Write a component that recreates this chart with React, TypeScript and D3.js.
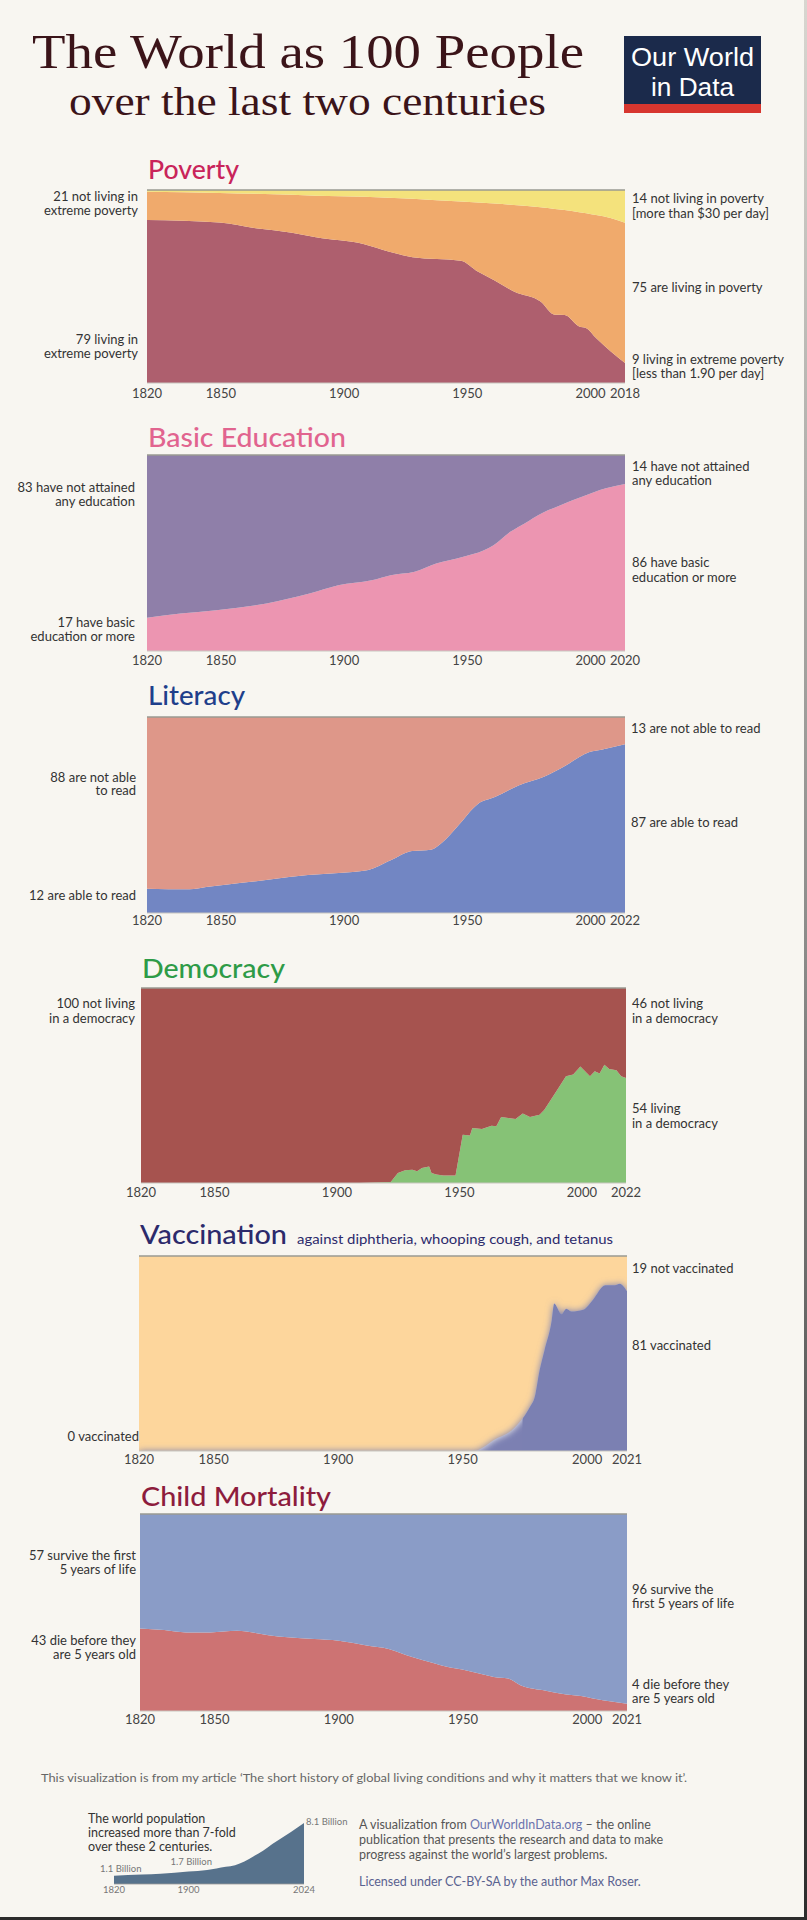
import * as d3 from 'd3';

// ---- data ----
const povertyYears = [1820, 1850, 1865, 1880, 1890, 1910, 1920, 1930, 1950, 1957, 1964, 1972, 1983, 1989, 1993, 1999, 2002, 2006, 2012, 2018];
const povertyExtreme = [84.5, 83.1, 80.2, 77.9, 75.5, 71.9, 68.1, 65.2, 63.4, 57.8, 53.1, 47.4, 42.2, 35.3, 35.2, 29.3, 28.4, 23.3, 16.4, 10.3];
const povertyNotPoor = [0.9, 1.5, 2, 2.5, 3, 3.5, 4, 4.5, 6, 6.5, 7, 7.8, 9, 9.8, 10.3, 11.5, 12, 13, 14.5, 17];

const educationYears = [1820, 1834, 1849, 1858, 1870, 1879, 1888, 1900, 1914, 1922, 1932, 1941, 1952, 1961, 1965, 1972, 1978, 1985, 1993, 2002, 2012, 2020];
const educationBasic = [17.0, 19.1, 20.8, 22.1, 24.2, 26.7, 29.3, 33.6, 36.1, 38.7, 40.4, 44.6, 48.0, 51.4, 54.0, 60.8, 65.1, 70.2, 74.4, 78.7, 83.0, 85.2];

const literacyYears = [1820, 1838, 1845, 1854, 1867, 1880, 1888, 1901, 1913, 1923, 1932, 1940, 1945, 1951, 1960, 1967, 1977, 1988, 1997, 2007, 2012, 2022];
const literacyRead = [12.4, 12.1, 13.3, 14.6, 16.3, 18.4, 19.4, 20.4, 21.8, 26.9, 31.6, 32.3, 36.2, 43.9, 55.8, 59.2, 65.1, 69.7, 75.3, 82.1, 83.3, 86.1];

const democracyYears = [1820, 1911, 1924, 1927, 1930, 1933, 1935, 1937, 1940, 1941, 1943, 1946, 1951, 1954, 1957, 1958, 1962, 1966, 1968, 1970, 1976, 1979, 1982, 1986, 1988, 1993, 1997, 2000, 2003, 2007, 2009, 2011, 2013, 2015, 2018, 2020, 2022];
const democracyLiving = [0, 0, 0.5, 5.1, 6.5, 6.8, 6.0, 7.7, 8.5, 5.1, 4.3, 3.8, 3.8, 24.8, 24.3, 28.2, 27.7, 29.4, 29.1, 33.8, 32.8, 35.6, 33.8, 35.0, 37.6, 47.0, 54.7, 55.6, 59.8, 54.7, 57.3, 56.1, 60.7, 58.5, 57.8, 54.7, 53.8];

const vaccinationYears = [1820, 1958, 1960, 1966, 1975, 1981, 1983, 1985, 1987, 1990, 1991, 1994, 1996, 1998, 2003, 2007, 2012, 2016, 2018, 2021];
const vaccinationShare = [0, 0, 0.7, 5.5, 12.3, 22.6, 27.7, 41.4, 51.6, 67, 75.6, 70.1, 73, 71.6, 72.5, 77.6, 85, 85, 85.8, 81.9];

const childYears = [1820, 1830, 1839, 1849, 1860, 1873, 1881, 1892, 1902, 1913, 1923, 1932, 1941, 1948, 1953, 1960, 1966, 1972, 1977, 1988, 1994, 2002, 2011, 2021];
const childDie = [41.9, 41.1, 39.9, 39.9, 40.7, 38.5, 37.4, 36.5, 35.7, 33.4, 31.4, 27.5, 24.4, 22.1, 21.1, 19.0, 17.3, 16.5, 13.1, 10.2, 8.8, 7.6, 5.4, 3.7];

const popYears = [1820, 1850, 1870, 1900, 1920, 1930, 1940, 1950, 1960, 1970, 1980, 1990, 2000, 2010, 2024];
const popBillions = [1.1, 1.26, 1.37, 1.65, 1.86, 2.07, 2.3, 2.5, 3.0, 3.7, 4.4, 5.3, 6.1, 6.9, 8.1];

const midTicks = [1820, 1850, 1900, 1950, 2000];

const W = 807;
const H = 1920;
const BG = '#f8f6f1';
const SANS = "Lato, 'Open Sans', sans-serif";
const SERIF = "'Liberation Serif', 'DejaVu Serif', serif";
const TEXT = '#333';

type Layer = { key: string; color: string; values?: number[] };
type Panel = {
  id: string;
  title: string;
  titleColor: string;
  titleWidth: number;
  subtitle?: string;
  titleY: number;
  top: number;
  bottom: number;
  left: number;
  right: number;
  tickY: number;
  endYear: number;
  axisEnd: number;
  years: number[];
  layers: Layer[];
  curve: d3.CurveFactory;
  leftX: number;
  leftLabels: [number, string][];
  rightX: number;
  rightLabels: [number, string][];
  blurUntil?: number;
};

const panels: Panel[] = [
  {
    id: 'poverty', title: 'Poverty', titleColor: '#c9245a', titleWidth: 91, titleY: 179,
    top: 190, bottom: 383, left: 147, right: 625, tickY: 398, endYear: 2018, axisEnd: 2014,
    years: povertyYears, curve: d3.curveMonotoneX,
    layers: [
      { key: 'extreme', color: '#ae5f6e', values: povertyExtreme },
      { key: 'poor', color: '#f0aa6c' },
      { key: 'rich', color: '#f4e27c', values: povertyNotPoor },
    ],
    leftX: 138,
    leftLabels: [[201, '21 not living in'], [215, 'extreme poverty'], [344, '79 living in'], [358, 'extreme poverty']],
    rightX: 632,
    rightLabels: [[203, '14 not living in poverty'], [218, '[more than $30 per day]'], [292, '75 are living in poverty'], [364, '9 living in extreme poverty'], [378, '[less than 1.90 per day]']],
  },
  {
    id: 'education', title: 'Basic Education', titleColor: '#e1648f', titleWidth: 198, titleY: 447,
    top: 455, bottom: 651, left: 147, right: 625, tickY: 665, endYear: 2020, axisEnd: 2014,
    years: educationYears, curve: d3.curveMonotoneX,
    layers: [
      { key: 'basic', color: '#ec95b1', values: educationBasic },
      { key: 'none', color: '#8f7fa9' },
    ],
    leftX: 135,
    leftLabels: [[492, '83 have not attained'], [506, 'any education'], [627, '17 have basic'], [641, 'education or more']],
    rightX: 632,
    rightLabels: [[471, '14 have not attained'], [485, 'any education'], [567, '86 have basic'], [582, 'education or more']],
  },
  {
    id: 'literacy', title: 'Literacy', titleColor: '#1f3f8b', titleWidth: 97, titleY: 705,
    top: 717, bottom: 913, left: 147, right: 625, tickY: 925, endYear: 2022, axisEnd: 2014,
    years: literacyYears, curve: d3.curveMonotoneX,
    layers: [
      { key: 'read', color: '#7286c3', values: literacyRead },
      { key: 'illiterate', color: '#de9789' },
    ],
    leftX: 136,
    leftLabels: [[782, '88 are not able'], [795, 'to read'], [900, '12 are able to read']],
    rightX: 631,
    rightLabels: [[733, '13 are not able to read'], [827, '87 are able to read']],
  },
  {
    id: 'democracy', title: 'Democracy', titleColor: '#2e9b47', titleWidth: 143, titleY: 978,
    top: 988, bottom: 1183, left: 141, right: 626, tickY: 1197, endYear: 2022, axisEnd: 2018,
    years: democracyYears, curve: d3.curveLinear,
    layers: [
      { key: 'demo', color: '#86c276', values: democracyLiving },
      { key: 'autoc', color: '#a6534f' },
    ],
    leftX: 135,
    leftLabels: [[1008, '100 not living'], [1023, 'in a democracy']],
    rightX: 632,
    rightLabels: [[1008, '46 not living'], [1023, 'in a democracy'], [1113, '54 living'], [1128, 'in a democracy']],
  },
  {
    id: 'vaccination', title: 'Vaccination', titleColor: '#2c2a6b', titleWidth: 147,
    subtitle: 'against diphtheria, whooping cough, and tetanus', titleY: 1244,
    top: 1256, bottom: 1451, left: 139, right: 627, tickY: 1464, endYear: 2021, axisEnd: 2016,
    years: vaccinationYears, curve: d3.curveMonotoneX, blurUntil: 1978,
    layers: [
      { key: 'vacc', color: '#7b80b2', values: vaccinationShare },
      { key: 'notvacc', color: '#fdd69c' },
    ],
    leftX: 139,
    leftLabels: [[1441, '0 vaccinated']],
    rightX: 632,
    rightLabels: [[1273, '19 not vaccinated'], [1350, '81 vaccinated']],
  },
  {
    id: 'child', title: 'Child Mortality', titleColor: '#8d1c3d', titleWidth: 190, titleY: 1506,
    top: 1514, bottom: 1711, left: 140, right: 627, tickY: 1724, endYear: 2021, axisEnd: 2016,
    years: childYears, curve: d3.curveMonotoneX,
    layers: [
      { key: 'die', color: '#cd7373', values: childDie },
      { key: 'survive', color: '#8a9cc7' },
    ],
    leftX: 136,
    leftLabels: [[1560, '57 survive the first'], [1574, '5 years of life'], [1645, '43 die before they'], [1659, 'are 5 years old']],
    rightX: 632,
    rightLabels: [[1594, '96 survive the'], [1608, 'first 5 years of life'], [1689, '4 die before they'], [1703, 'are 5 years old']],
  },
];

function AreaPanel({ p }: { p: Panel }) {
  const x = d3.scaleLinear().domain([1820, p.endYear]).range([p.left, p.right]);
  const y = d3.scaleLinear().domain([0, 100]).range([p.bottom, p.top]);
  // the printed year labels sit on a slightly different spacing than the data
  const axisX = d3.scaleLinear().domain([1820, p.axisEnd]).range([p.left, p.right]);

  const rows = p.years.map((yr, i) => {
    const r: Record<string, number> = { year: yr };
    let sum = 0;
    p.layers.forEach((l) => {
      if (l.values) {
        r[l.key] = l.values[i];
        sum += l.values[i];
      }
    });
    p.layers.forEach((l) => {
      if (!l.values) r[l.key] = 100 - sum;
    });
    return r;
  });

  const stacked = d3.stack<Record<string, number>>().keys(p.layers.map((l) => l.key))(rows);
  const area = d3
    .area<d3.SeriesPoint<Record<string, number>>>()
    .x((d) => x(d.data.year))
    .y0((d) => y(d[0]))
    .y1((d) => y(d[1]))
    .curve(p.curve);

  const clipId = `clip-${p.id}`;

  // blurred edge for the early part of the vaccination series
  let blurred = null;
  if (p.blurUntil) {
    const first = stacked[0];
    const blurArea = d3
      .area<d3.SeriesPoint<Record<string, number>>>()
      .x((d) => x(d.data.year))
      .y0(() => y(0) + 20)
      .y1((d) => y(d[1]))
      .curve(p.curve);
    blurred = (
      <g clipPath={`url(#${clipId})`}>
        <path d={blurArea(first) || ''} fill={p.layers[0].color} filter="url(#vblur)" />
        <g clipPath={`url(#${clipId}-sharp)`}>
          <path d={area(first) || ''} fill={p.layers[0].color} />
        </g>
      </g>
    );
  }

  return (
    <g>
      <defs>
        <clipPath id={clipId}>
          <rect x={p.left} y={p.top} width={p.right - p.left} height={p.bottom - p.top} />
        </clipPath>
        {p.blurUntil && (
          <clipPath id={`${clipId}-sharp`}>
            <rect x={x(p.blurUntil)} y={p.top} width={p.right - x(p.blurUntil)} height={p.bottom - p.top} />
          </clipPath>
        )}
      </defs>
      <text x={p.left + 1} y={p.titleY} fill={p.titleColor} fontFamily={SANS} fontSize={27} fontWeight={500}
        textLength={p.titleWidth} lengthAdjust="spacingAndGlyphs">
        {p.title}
      </text>
      {p.subtitle && (
        <text x={297} y={p.titleY} fill={p.titleColor} fontFamily={SANS} fontSize={14}
          textLength={316} lengthAdjust="spacingAndGlyphs">
          {p.subtitle}
        </text>
      )}
      {stacked.map((s, i) =>
        p.blurUntil && i === 0 ? null : (
          <path key={s.key} d={area(s) || ''} fill={p.layers[i].color} />
        ),
      )}
      {blurred}
      <line x1={p.left} x2={p.right} y1={p.top} y2={p.top} stroke="#9a9a92" strokeWidth={1.5} />
      <line x1={p.left} x2={p.right} y1={p.bottom} y2={p.bottom} stroke="#c8c6c0" strokeWidth={1} />
      {midTicks.map((t) => (
        <text key={t} x={axisX(t)} y={p.tickY} textAnchor="middle" fill="#444" fontFamily={SANS} fontSize={13}>
          {t}
        </text>
      ))}
      <text x={x(p.endYear)} y={p.tickY} textAnchor="middle" fill="#444" fontFamily={SANS} fontSize={13}>
        {p.endYear}
      </text>
      {p.leftLabels.map(([ly, txt], i) => (
        <text key={`l${i}`} x={p.leftX} y={ly} textAnchor="end" fill={TEXT} fontFamily={SANS} fontSize={13}>
          {txt}
        </text>
      ))}
      {p.rightLabels.map(([ly, txt], i) => (
        <text key={`r${i}`} x={p.rightX} y={ly} fill={TEXT} fontFamily={SANS} fontSize={13}>
          {txt}
        </text>
      ))}
    </g>
  );
}

function PopulationInset() {
  const x = d3.scaleLinear().domain([1820, 2024]).range([114, 304]);
  const y = d3.scaleLinear().domain([0, 8.1]).range([1884, 1823]);
  const rows = popYears.map((yr, i) => ({ year: yr, v: popBillions[i] }));
  const area = d3
    .area<{ year: number; v: number }>()
    .x((d) => x(d.year))
    .y0(y(0))
    .y1((d) => y(d.v))
    .curve(d3.curveMonotoneX);
  const small = { fontFamily: SANS, fontSize: 9.5, fill: '#777' };
  return (
    <g>
      <path d={area(rows) || ''} fill="#57728c" />
      <line x1={x(1820)} x2={x(2024)} y1={y(0)} y2={y(0)} stroke="#999" strokeWidth={0.8} />
      {[1820, 1900, 2024].map((t) => (
        <text key={t} x={x(t)} y={1893} textAnchor="middle" {...small}>{t}</text>
      ))}
      <text x={x(1820) - 14} y={1872} {...small}>1.1 Billion</text>
      <text x={x(1900) - 18} y={1865} {...small}>1.7 Billion</text>
      <text x={x(2024) + 2} y={1825} {...small}>8.1 Billion</text>
      {['The world population', 'increased more than 7-fold', 'over these 2 centuries.'].map((t, i) => (
        <text key={t} x={88} y={1823 + i * 14} fontFamily={SANS} fontSize={12.5} fill={TEXT}>{t}</text>
      ))}
    </g>
  );
}

export default function App() {
  return (
    <svg width={W} height={H} viewBox={`0 0 ${W} ${H}`}
      style={{ position: 'absolute', left: 0, top: 0, display: 'block' }}>
      <defs>
        <filter id="vblur" x="-10%" y="-10%" width="120%" height="120%">
          <feGaussianBlur stdDeviation={3.5} />
        </filter>
        <linearGradient id="edge" x1="0" y1="0" x2="0" y2="1">
          <stop offset="0" stopColor="#d8d6d0" />
          <stop offset="0.5" stopColor="#8a8a88" />
          <stop offset="1" stopColor="#2c2c2c" />
        </linearGradient>
      </defs>
      <rect width={W} height={H} fill={BG} />

      {/* header */}
      <text x={32} y={68} fontFamily={SERIF} fontSize={49} fill="#3b1419"
        textLength={552} lengthAdjust="spacingAndGlyphs">
        The World as 100 People
      </text>
      <text x={69} y={115} fontFamily={SERIF} fontSize={40} fill="#3b1419"
        textLength={477} lengthAdjust="spacingAndGlyphs">
        over the last two centuries
      </text>
      <rect x={624} y={36} width={137} height={69} fill="#1b2a4b" />
      <rect x={624} y={104} width={137} height={9} fill="#d7362f" />
      <text x={631} y={66} fontFamily="'Liberation Sans', Arial, sans-serif" fontSize={25} fill="#fff"
        textLength={123} lengthAdjust="spacingAndGlyphs">Our World</text>
      <text x={651} y={96} fontFamily="'Liberation Sans', Arial, sans-serif" fontSize={25} fill="#fff"
        textLength={83} lengthAdjust="spacingAndGlyphs">in Data</text>

      {panels.map((p) => (
        <AreaPanel key={p.id} p={p} />
      ))}

      {/* footer */}
      <text x={41} y={1782} fontFamily={SANS} fontSize={11.5} fill="#666" textLength={646} lengthAdjust="spacingAndGlyphs">
        This visualization is from my article ‘The short history of global living conditions and why it matters that we know it’.
      </text>
      <PopulationInset />
      <text x={359} y={1829} fontFamily={SANS} fontSize={12.5} fill="#555">
        A visualization from <tspan fill="#6b74ae">OurWorldInData.org</tspan> – the online
      </text>
      <text x={359} y={1844} fontFamily={SANS} fontSize={12.5} fill="#555">
        publication that presents the research and data to make
      </text>
      <text x={359} y={1859} fontFamily={SANS} fontSize={12.5} fill="#555">
        progress against the world’s largest problems.
      </text>
      <text x={359} y={1886} fontFamily={SANS} fontSize={12.5} fill="#5a6290">
        Licensed under CC-BY-SA by the author Max Roser.
      </text>

      <rect x={804} y={0} width={3} height={H} fill="url(#edge)" />
      <rect x={0} y={1917} width={W} height={3} fill="#2c2c2c" />
    </svg>
  );
}
